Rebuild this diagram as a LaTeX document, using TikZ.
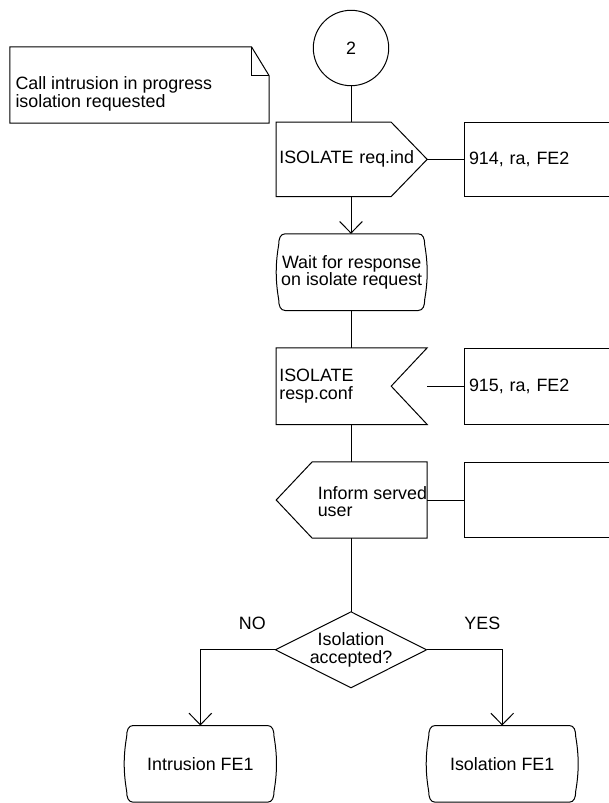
\documentclass[tikz,border=0pt]{standalone}
\usepackage{fontspec}
\setmainfont{Liberation Sans}
\usetikzlibrary{calc,arrows.meta}

% SDL state symbol: straight top and bottom, slightly bulging sides
\newcommand\sdlstate[1]{%
  \draw ($(#1.north west)+(9,0)$) -- ($(#1.north east)+(-9,0)$)
    .. controls ($(#1.north east)+(-4,0)$) and ($(#1.north east)+(-2.5,5)$) .. ($(#1.north east)+(-2.5,11)$)
    .. controls ($(#1.north east)+(0.8,30)$) and ($(#1.south east)+(0.8,-30)$) .. ($(#1.south east)+(-2.5,-11)$)
    .. controls ($(#1.south east)+(-2.5,-5)$) and ($(#1.south east)+(-4,0)$) .. ($(#1.south east)+(-9,0)$)
    -- ($(#1.south west)+(9,0)$)
    .. controls ($(#1.south west)+(4,0)$) and ($(#1.south west)+(2.5,-5)$) .. ($(#1.south west)+(2.5,-11)$)
    .. controls ($(#1.south west)+(-0.8,-30)$) and ($(#1.north west)+(-0.8,30)$) .. ($(#1.north west)+(2.5,11)$)
    .. controls ($(#1.north west)+(2.5,5)$) and ($(#1.north west)+(4,0)$) .. ($(#1.north west)+(9,0)$)
    -- cycle;}

\begin{document}
\begin{tikzpicture}[
  x=0.75pt, y=-0.75pt,
  line width=0.75pt,
  font=\fontsize{13.4pt}{13pt}\selectfont,
  shapebox/.style={rectangle, inner sep=0pt, minimum width=112.5pt, minimum height=56.6pt},
  sigtext/.style={text width=108.6pt, inner xsep=1.95pt, inner ysep=0pt, align=left},
  refbox/.style={draw, rectangle, text width=112.7pt, inner xsep=3.5pt, inner ysep=0pt, align=left},
  arr/.style={-{Straight Barb[length=8.7pt,width=17pt]}},
  plain/.style={inner sep=0pt}
]
\useasboundingbox (0,0) rectangle (609,803);
\clip (0,0) rectangle (609,803);

% connector
\node[draw, circle, minimum size=56.55pt, inner sep=0pt] (c2) at (351,48) {2};

% comment with folded corner
\node[shapebox, minimum width=193.8pt, minimum height=56.55pt] (note) at (139.5,85) {};
\draw (note.south west) -- (note.north west) -- ($(note.north east)+(-17.7,0)$)
  -- ($(note.north east)+(0,29)$) -- (note.south east) -- cycle;
\draw ($(note.north east)+(-17.7,0)$) -- ($(note.north east)+(-17.7,29)$) -- ($(note.north east)+(0,29)$);
\node[plain, anchor=west, align=left] (notetext) at (15,93.9) {Call intrusion in progress\\isolation requested};

% input signal
\node[shapebox, sigtext, minimum height=55pt] (in1) at (351.7,159.35) {ISOLATE req.ind};
\draw (in1.north west) -- ($(in1.north east)+(-36,0)$) -- (in1.east)
  -- ($(in1.south east)+(-36,0)$) -- (in1.south west) -- cycle;
\node[refbox, minimum height=55pt] (box1) at (544.15,159.35) {914, ra, FE2};

% wait state
\node[shapebox, align=center, minimum height=56.78pt] (wait) at (351.7,272.15) {Wait for response\\on isolate request};
\sdlstate{wait}

% received signal
\node[shapebox, sigtext, minimum height=56.78pt] (recv) at (351.7,386.15) {ISOLATE\\resp.conf};
\draw (recv.north west) -- (recv.north east) -- ($(recv.east)+(-36,0)$)
  -- (recv.south east) -- (recv.south west) -- cycle;
\node[refbox, minimum height=56.78pt] (box2) at (544.15,386.15) {915, ra, FE2};

% output towards the served user
\node[shapebox, minimum height=56.55pt] (out) at (351.7,500) {};
\draw (out.north east) -- (out.south east) -- ($(out.south west)+(36,0)$)
  -- (out.west) -- ($(out.north west)+(36,0)$) -- cycle;
\node[plain, anchor=west, align=left] (outtext) at (317.3,501.4) {Inform served\\user};
\node[refbox, minimum height=56.55pt] (box3) at (544.15,500) {};

% decision
\node[shapebox, align=center, minimum height=56.25pt] (dec) at (351,649.8) {Isolation\\accepted?};
\draw (dec.north) -- (dec.east) -- (dec.south) -- (dec.west) -- cycle;
\node[plain] (no) at (252.3,622.9) {NO};
\node[plain] (yes) at (482.3,622.9) {YES};

% next states
\node[shapebox, minimum width=113.5pt, minimum height=56.78pt] (st1) at (200.35,763.85) {Intrusion FE1};
\sdlstate{st1}
\node[shapebox, minimum width=113.25pt, minimum height=56.78pt] (st2) at (502.2,763.85) {Isolation FE1};
\sdlstate{st2}

% flow lines
\draw (c2.south) -- (c2.south |- in1.north);
\draw[arr] (c2 |- in1.south) -- (c2 |- wait.north);
\draw (c2 |- wait.south) -- (c2 |- recv.north);
\draw (c2 |- recv.south) -- (c2 |- out.north);
\draw (c2 |- out.south) -- (dec.north);
\draw[arr] (dec.west) -| (st1.north);
\draw[arr] (dec.east) -| (st2.north);

% links to the signal reference boxes
\draw (in1.east) -- (box1.west);
\draw (recv.east) -- (box2.west);
\draw (out.east) -- (box3.west);
\end{tikzpicture}
\end{document}
